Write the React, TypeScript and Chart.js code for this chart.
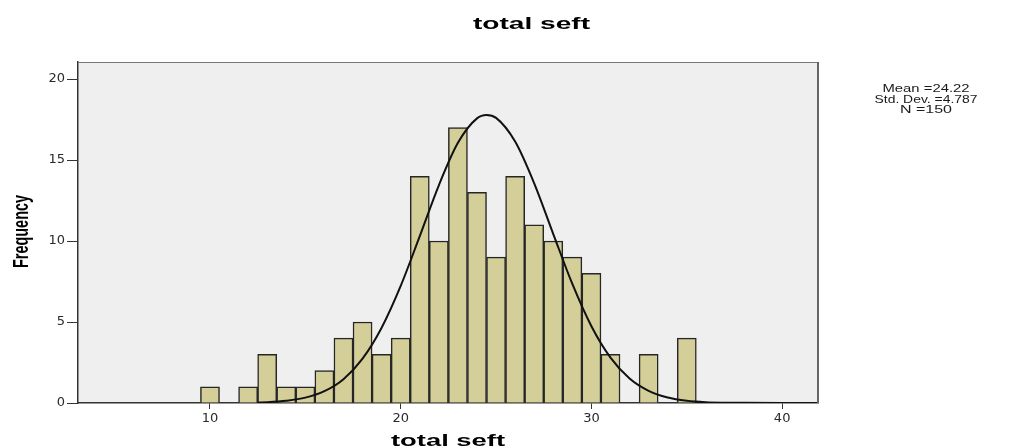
import React, { useEffect, useRef } from "react";
import { Chart, registerables } from "chart.js";

Chart.register(...registerables);

// Histogram bins (centre of each 1-unit bin) and their counts
const binCenters = [10, 12, 13, 14, 15, 16, 17, 18, 19, 20, 21, 22, 23, 24, 25, 26, 27, 28, 29, 30, 31, 33, 35];
const frequencies = [1, 1, 3, 1, 1, 2, 4, 5, 3, 4, 14, 10, 17, 13, 9, 14, 11, 10, 9, 8, 3, 3, 4];

// Normal curve
const curveX = [12.5, 13, 14, 15, 16, 17, 18, 19, 20, 21, 22, 23, 24, 24.5, 25, 26, 27, 28, 29, 30, 31, 32, 33, 34, 35, 36, 37, 38, 40, 41.88];
const curveY = [0.03, 0.05, 0.14, 0.33, 0.73, 1.47, 2.74, 4.65, 7.23, 10.3, 13.44, 16.06, 17.57, 17.78, 17.6, 16.14, 13.56, 10.43, 7.35, 4.74, 2.8, 1.51, 0.75, 0.34, 0.14, 0.05, 0.02, 0.01, 0, 0];

const xTicks = [10, 20, 30, 40];
const yTicks = [0, 5, 10, 15, 20];

const chartTitle = "total seft";
const xTitle = "total seft";
const yTitle = "Frequency";
const statsLines = ["Mean =24.22", "Std. Dev. =4.787", "N =150"];

function stretchText(
  ctx: CanvasRenderingContext2D,
  text: string,
  cx: number,
  cy: number,
  width: number,
  font: string,
  color: string,
  rot = 0,
  sy = 1
) {
  ctx.save();
  ctx.font = font;
  ctx.fillStyle = color;
  ctx.textAlign = "center";
  ctx.textBaseline = "alphabetic";
  const w = ctx.measureText(text).width;
  ctx.translate(cx, cy);
  if (rot) ctx.rotate(rot);
  ctx.scale(width / w, sy);
  ctx.fillText(text, 0, 0);
  ctx.restore();
}

const decor = {
  id: "decor",
  beforeDraw(chart: any) {
    const { ctx, chartArea: a } = chart;
    ctx.save();
    ctx.fillStyle = "#ffffff";
    ctx.fillRect(0, 0, chart.width, chart.height);
    ctx.fillStyle = "#EFEFEF";
    ctx.fillRect(a.left, a.top, a.right - a.left, a.bottom - a.top);
    ctx.restore();
  },
  afterDraw(chart: any) {
    const { ctx, chartArea: a } = chart;
    ctx.save();
    ctx.strokeStyle = "#777777";
    ctx.lineWidth = 1;
    ctx.beginPath();
    ctx.moveTo(a.left, a.top + 0.5);
    ctx.lineTo(a.right, a.top + 0.5);
    ctx.stroke();
    ctx.lineWidth = 2;
    ctx.strokeStyle = "#666666";
    ctx.beginPath();
    ctx.moveTo(a.right, a.top);
    ctx.lineTo(a.right, a.bottom);
    ctx.stroke();
    ctx.restore();

    const bold16 = "bold 16px 'Liberation Sans', Arial, sans-serif";
    stretchText(ctx, chartTitle, 531.5, 29, 117, bold16, "#000");
    stretchText(ctx, xTitle, 448, 446, 114, bold16, "#000");
    stretchText(ctx, yTitle, 28, 231.5, 73, "bold 15px 'Liberation Sans', Arial, sans-serif", "#000", -Math.PI / 2, 1.5);

    const fStats = "11.5px 'Liberation Sans', Arial, sans-serif";
    const widths = [87, 103, 52];
    const bases = [92, 102.5, 113];
    statsLines.forEach((t, i) => stretchText(ctx, t, 926, bases[i], widths[i], fStats, "#1a1a1a"));
  },
};

export default function App() {
  const ref = useRef<HTMLCanvasElement | null>(null);

  useEffect(() => {
    if (!ref.current) return;
    const chart = new Chart(ref.current, {
      type: "bar",
      data: {
        datasets: [
          {
            type: "line",
            data: curveX.map((x, i) => ({ x, y: curveY[i] })),
            borderColor: "#111111",
            borderWidth: 2,
            pointRadius: 0,
            cubicInterpolationMode: "monotone",
            fill: false,
            order: 0,
          } as any,
          {
            type: "bar",
            data: binCenters.map((x, i) => ({ x, y: frequencies[i] })),
            backgroundColor: "#D4CF98",
            borderColor: "#262626",
            borderWidth: 1.5,
            barPercentage: 1,
            categoryPercentage: 1,
            order: 1,
          } as any,
        ],
      },
      options: {
        animation: false,
        responsive: false,
        maintainAspectRatio: false,
        layout: { padding: { left: 0, right: 206, top: 62, bottom: 0 } },
        plugins: {
          legend: { display: false },
          tooltip: { enabled: false },
          title: { display: false },
        },
        scales: {
          x: {
            type: "linear",
            min: 3.08,
            max: 41.88,
            offset: false,
            grid: { offset: false, drawOnChartArea: false, drawTicks: true, tickLength: 6, color: "#333333" },
            border: { display: true, color: "#333333", width: 1.5 },
            ticks: { font: { family: "'DejaVu Sans', sans-serif", size: 13 }, color: "#2a2a2a", padding: 2, maxRotation: 0 },
            afterBuildTicks: (s: any) => {
              s.ticks = xTicks.map((v) => ({ value: v }));
            },
            afterFit: (s: any) => {
              s.height = 45;
            },
          },
          y: {
            type: "linear",
            min: 0,
            max: 21.05,
            grid: { drawOnChartArea: false, drawTicks: true, tickLength: 11, color: "#333333" },
            border: { display: true, color: "#333333", width: 1.5 },
            ticks: { font: { family: "'DejaVu Sans', sans-serif", size: 13 }, color: "#2a2a2a", padding: 2 },
            afterBuildTicks: (s: any) => {
              s.ticks = yTicks.map((v) => ({ value: v }));
            },
            afterFit: (s: any) => {
              s.width = 78;
            },
          },
        },
      } as any,
      plugins: [decor],
    });
    return () => chart.destroy();
  }, []);

  return (
    <div style={{ position: "absolute", left: 0, top: 0, width: 1024, height: 448 }}>
      <canvas ref={ref} width={1024} height={448} style={{ display: "block" }} />
    </div>
  );
}
